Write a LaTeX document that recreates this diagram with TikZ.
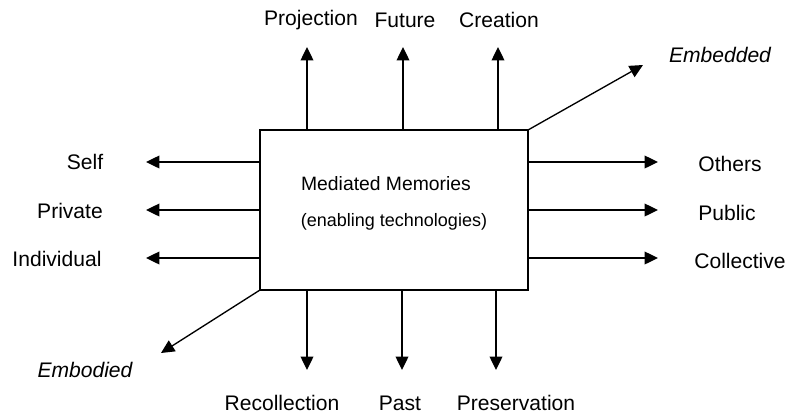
\documentclass[tikz,border=0pt]{standalone}
\usepackage{fontspec}
\setmainfont{Liberation Sans}
\usetikzlibrary{arrows.meta}
\tikzset{
  lbl/.style={font=\fontsize{15.8}{18}\selectfont, inner sep=0pt},
  emb/.style={lbl, font=\fontsize{15.8}{18}\selectfont\itshape},
  arr/.style={-{Triangle[length=10pt,width=9.5pt]}, line width=1pt},
}
\begin{document}
\begin{tikzpicture}[x=0.75pt, y=-0.75pt]
        \useasboundingbox (0,0) rectangle (790,415);
        \node (0) at (260, 130) {};
        \node (1) at (528, 130) {};
        \node (2) at (528, 290) {};
        \node (3) at (260, 290) {};
        \node (4) at (260, 162) {};
        \node (5) at (260, 210) {};
        \node (6) at (260, 258) {};
        \node (7) at (146, 162) {};
        \node (8) at (146, 210) {};
        \node (9) at (146, 258) {};
        \node (10) at (528, 162) {};
        \node (11) at (528, 210) {};
        \node (12) at (528, 258) {};
        \node (13) at (658, 162) {};
        \node (14) at (658, 210) {};
        \node (15) at (658, 258) {};
        \node (16) at (307, 130) {};
        \node (17) at (403, 130) {};
        \node (18) at (498, 130) {};
        \node (19) at (307, 47) {};
        \node (20) at (403, 47) {};
        \node (21) at (498, 47) {};
        \node (22) at (307, 290) {};
        \node (23) at (402, 290) {};
        \node (24) at (496, 290) {};
        \node (25) at (307, 370) {};
        \node (26) at (402, 370) {};
        \node (27) at (496, 370) {};
        \node (28) at (643, 65) {};
        \node (29) at (161, 353) {};
        \node [lbl, font=\fontsize{14.5}{17}\selectfont] (30) at (386, 184) {Mediated Memories};
        \node [lbl, font=\fontsize{13.5}{16}\selectfont] (31) at (394, 222) {(enabling technologies)};
        \node [lbl] (32) at (311, 20) {Projection};
        \node [lbl] (33) at (405, 20) {Future};
        \node [lbl] (34) at (499, 20) {Creation};
        \node [emb] (35) at (720, 55) {Embedded};
        \node [lbl] (36) at (85, 162) {Self};
        \node [lbl] (37) at (70, 211) {Private};
        \node [lbl] (38) at (57, 259) {Individual};
        \node [lbl] (39) at (730, 164) {Others};
        \node [lbl] (40) at (727, 213) {Public};
        \node [lbl] (41) at (740, 261) {Collective};
        \node [emb] (42) at (85, 370) {Embodied};
        \node [lbl] (43) at (282, 403) {Recollection};
        \node [lbl] (44) at (400, 403) {Past};
        \node [lbl] (45) at (516, 403) {Preservation};
        \draw [line width=1pt] (0.center) to (1.center) to (2.center) to (3.center) -- cycle;
        \draw [arr] (4.center) to (7.center);
        \draw [arr] (5.center) to (8.center);
        \draw [arr] (6.center) to (9.center);
        \draw [arr] (10.center) to (13.center);
        \draw [arr] (11.center) to (14.center);
        \draw [arr] (12.center) to (15.center);
        \draw [arr] (16.center) to (19.center);
        \draw [arr] (17.center) to (20.center);
        \draw [arr] (18.center) to (21.center);
        \draw [arr] (22.center) to (25.center);
        \draw [arr] (23.center) to (26.center);
        \draw [arr] (24.center) to (27.center);
        \draw [arr] (1.center) to (28.center);
        \draw [arr] (3.center) to (29.center);
    \end{tikzpicture}
\end{document}
